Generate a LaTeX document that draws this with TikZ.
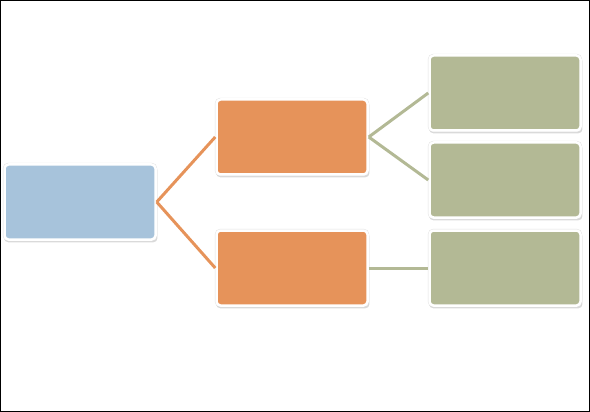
\documentclass[tikz,border=0pt]{standalone}
\usepackage{tikz}
\usetikzlibrary{shadows}

\definecolor{rootblue}{HTML}{A7C3DB}
\definecolor{midorange}{HTML}{E6935A}
\definecolor{leafgreen}{HTML}{B3B995}

\tikzset{
  box/.style={rectangle, rounded corners=4pt, draw=white, line width=2.5pt,
    minimum width=151pt, minimum height=75pt, inner sep=0pt,
    drop shadow={opacity=0.3, shadow scale=1.015, shadow xshift=0.8pt, shadow yshift=-2.2pt},
    preaction={draw=black!12, line width=3.4pt}},
  link/.style={line width=3pt}
}

\begin{document}
\begin{tikzpicture}[x=1pt,y=-1pt]

\useasboundingbox (0,0) rectangle (590,412);
\draw[line width=1pt] (0.5,0.5) rectangle (589.5,411.5);

%root
\node[box, fill=rootblue] (root) at (80,202) {};

%middle
\node[box, fill=midorange] (upper) at (292,137) {};
\node[box, fill=midorange] (lower) at (292,268) {};

%leaves
\node[box, fill=leafgreen] (leafa) at (505,93) {};
\node[box, fill=leafgreen] (leafb) at (505,180) {};
\node[box, fill=leafgreen] (leafc) at (505,268) {};

\draw[link, midorange] (root.east) -- (upper.west);
\draw[link, midorange] (root.east) -- (lower.west);
\draw[link, leafgreen] (upper.east) -- (leafa.west);
\draw[link, leafgreen] (upper.east) -- (leafb.west);
\draw[link, leafgreen] (lower.east) -- (leafc.west);

\end{tikzpicture}
\end{document}
